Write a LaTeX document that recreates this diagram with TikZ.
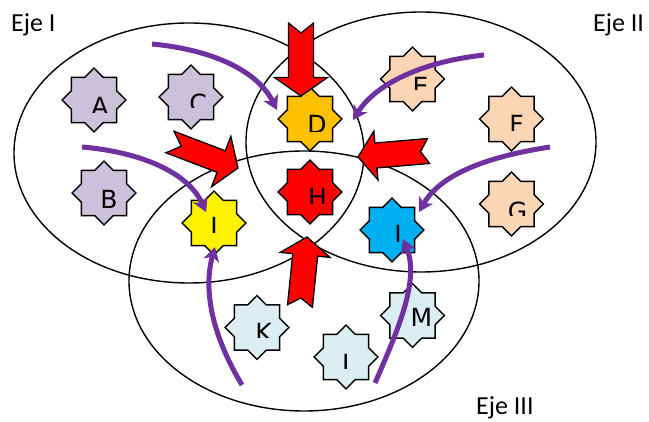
\documentclass[tikz,border=0pt]{standalone}
\usepackage{fontspec}
\setmainfont{Carlito}
\newfontfamily\starfont{DejaVu Sans}
\usetikzlibrary{shapes.geometric,arrows.meta,calc}
\definecolor{lav}{HTML}{CCC1DA}
\definecolor{gold}{HTML}{FFC000}
\definecolor{peach}{HTML}{FCD5B5}
\definecolor{skyb}{HTML}{00B0F0}
\definecolor{paleb}{HTML}{DBEEF4}
\definecolor{purp}{HTML}{7030A0}
\tikzset{
  starsh/.style={star, star points=8, star point ratio=1.31, minimum size=64pt, inner sep=0pt, draw=black, line width=1.4pt},
  lettersty/.style={font=\starfont\fontsize{25}{28}\selectfont, inner sep=0pt, text=black},
  ejesty/.style={font=\fontsize{26}{30}\selectfont, inner sep=0pt, anchor=base west},
  ellsty/.style={draw=black, line width=1.4pt},
  redarr/.style={draw=black, fill=red, line width=1.3pt, line join=miter},
  purarr/.style={draw=purp, line width=5pt, -{Stealth[length=14pt,width=16pt,inset=4pt]}},
}
% name, x, y, fill, letter, dx, baseline offset, cut offset
\newcommand\starnode[8]{%
  \node[starsh, fill=#4] (#1) at (#2,#3) {};
  \begin{scope}
    \clip (#2-36,#3-36) rectangle (#2+36,#3+#8);
    \node[lettersty, anchor=base] (#1t) at (#2+#6,#3+#7) {#5};
  \end{scope}}
% name, tail x, tail y, tip x, tip y, shaft half, head half, head length, notch
\newcommand\notcharrow[9]{%
  \coordinate (#1T) at (#2,#3);
  \coordinate (#1P) at (#4,#5);
  \coordinate (#1Q) at ($(#1P)!#8pt!(#1T)$);
  \coordinate (#1N) at ($(#1T)!#9pt!(#1P)$);
  \draw[redarr] ($(#1T)!#6pt!90:(#1P)$) -- ($(#1Q)!#6pt!90:(#1P)$) -- ($(#1Q)!#7pt!90:(#1P)$)
     -- (#1P) -- ($(#1Q)!#7pt!-90:(#1P)$) -- ($(#1Q)!#6pt!-90:(#1P)$) -- ($(#1T)!#6pt!-90:(#1P)$)
     -- (#1N) -- cycle;}
\begin{document}
\begin{tikzpicture}[x=1pt,y=-1pt]
\useasboundingbox (0,0) rectangle (649,422);
% ellipses
\draw[ellsty] (189,153) ellipse [x radius=175pt, y radius=130pt];
\draw[ellsty] (421,142) ellipse [x radius=175pt, y radius=130pt];
\draw[ellsty] (304,281) ellipse [x radius=175pt, y radius=130pt];
% labels
\node[ejesty] (e1) at (11,32) {Eje I};
\node[ejesty] (e2) at (593,32) {Eje II};
\node[ejesty] (e3) at (476,415) {Eje III};
% stars
\starnode{A}{94}{100}{lav}{A}{6}{15.2}{13}
\starnode{B}{104}{193}{lav}{B}{5}{15.2}{30}
\starnode{C}{191}{97}{lav}{C}{7}{15.2}{11}
\starnode{D}{310}{119}{gold}{D}{7}{14.2}{13}
\starnode{E}{412.5}{79}{peach}{E}{8}{16.2}{11}
\starnode{F}{511.5}{119}{peach}{F}{5}{14.2}{12}
\starnode{G}{511.5}{204}{peach}{G}{6}{16.2}{12}
\starnode{H}{310}{192}{red}{H}{7.5}{14.2}{12}
\starnode{I}{214}{223}{yellow}{I}{0}{12.2}{10}
\starnode{J}{392}{230}{skyb}{J}{6}{13.2}{12}
\starnode{K}{257}{327.5}{paleb}{K}{6.5}{13.7}{10.5}
\starnode{L}{346}{357}{paleb}{L}{3}{15.2}{12}
\starnode{M}{412.5}{315.5}{paleb}{M}{9}{10.7}{10.5}
% red notched arrows
\notcharrow{ra}{301}{23}{301}{96}{12.5}{26.5}{18.5}{10}
\notcharrow{rb}{170}{142}{238}{168}{11.5}{27}{18}{12}
\notcharrow{rc}{428.5}{151}{358}{157}{12.5}{24.5}{18}{8}
\notcharrow{rd}{300}{306}{307}{237}{12.5}{25}{18}{8}
% purple curved arrows
\coordinate (p1s) at (152,44);  \coordinate (p1e) at (277,110);
\coordinate (p2s) at (82,147);  \coordinate (p2e) at (206,212);
\coordinate (p3s) at (484,55);  \coordinate (p3e) at (353,120);
\coordinate (p4s) at (550,147); \coordinate (p4e) at (419,212);
\coordinate (p5s) at (242,385); \coordinate (p5e) at (215,247);
\coordinate (p6s) at (375,383); \coordinate (p6e) at (403,239);
\draw[purarr] (p1s) .. controls (215,50) and (258,72) .. (p1e);
\draw[purarr] (p2s) .. controls (140,152) and (188,172) .. (p2e);
\draw[purarr] (p3s) .. controls (420,62) and (375,85) .. (p3e);
\draw[purarr] (p4s) .. controls (485,157) and (440,175) .. (p4e);
\draw[purarr] (p5s) .. controls (212,335) and (203,290) .. (p5e);
\draw[purarr] (p6s) .. controls (398,330) and (420,280) .. (p6e);
\end{tikzpicture}
\end{document}
